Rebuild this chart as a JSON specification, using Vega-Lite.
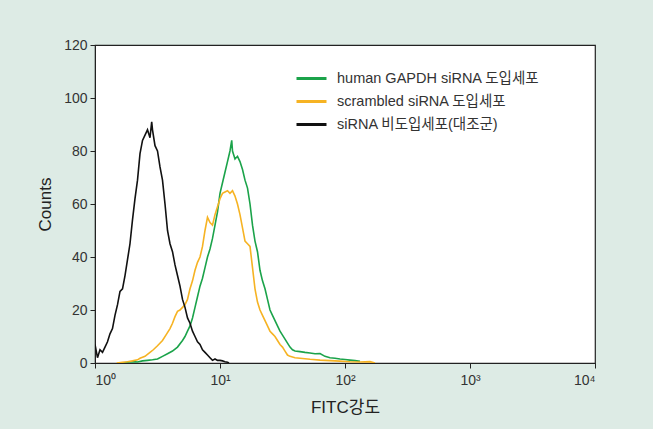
{
  "$schema": "https://vega.github.io/schema/vega-lite/v6.json",
  "autosize": "none",
  "padding": {"left": 95, "top": 45, "right": 58, "bottom": 66},
  "width": 500,
  "height": 318,
  "background": "#ddebe5",
  "config": {
    "font": "Liberation Sans, Noto Sans CJK KR",
    "view": {"stroke": "#222", "strokeWidth": 1.2, "fill": "white"}
  },
  "datasets": {
    "black": [[1.000,7],[1.047,2],[1.096,5],[1.148,4],[1.202,6],[1.259,8],[1.318,11],[1.380,13],[1.445,18],[1.514,22],[1.585,27],[1.660,28],[1.738,33],[1.820,39],[1.905,45],[1.995,54],[2.089,62],[2.188,69],[2.291,79],[2.399,84],[2.512,86],[2.630,88],[2.754,85],[2.842,91],[2.884,88],[3.020,82],[3.162,80],[3.311,74],[3.467,69],[3.631,60],[3.802,50],[3.981,45],[4.169,42],[4.365,37],[4.571,33],[4.786,29],[5.012,24],[5.248,21],[5.495,17],[5.754,15],[6.026,12],[6.310,10],[6.607,8],[6.918,7],[7.244,5],[7.586,4],[7.943,3],[8.318,2],[8.710,1],[9.120,1.5],[9.550,1],[10.00,1],[10.47,0.8],[10.96,0.5],[11.48,0.3],[11.80,0]]
  },
  "data": {
    "values": [
      {"s": "human GAPDH siRNA 도입세포", "x": 1.675, "y": 0},
      {"s": "human GAPDH siRNA 도입세포", "x": 1.820, "y": 0.3},
      {"s": "human GAPDH siRNA 도입세포", "x": 1.995, "y": 0.5},
      {"s": "human GAPDH siRNA 도입세포", "x": 2.188, "y": 0.4},
      {"s": "human GAPDH siRNA 도입세포", "x": 2.399, "y": 0.8},
      {"s": "human GAPDH siRNA 도입세포", "x": 2.630, "y": 1},
      {"s": "human GAPDH siRNA 도입세포", "x": 2.884, "y": 1.2},
      {"s": "human GAPDH siRNA 도입세포", "x": 3.162, "y": 1.5},
      {"s": "human GAPDH siRNA 도입세포", "x": 3.467, "y": 2.5},
      {"s": "human GAPDH siRNA 도입세포", "x": 3.802, "y": 3.5},
      {"s": "human GAPDH siRNA 도입세포", "x": 4.169, "y": 4.5},
      {"s": "human GAPDH siRNA 도입세포", "x": 4.571, "y": 6},
      {"s": "human GAPDH siRNA 도입세포", "x": 5.012, "y": 8.5},
      {"s": "human GAPDH siRNA 도입세포", "x": 5.248, "y": 10},
      {"s": "human GAPDH siRNA 도입세포", "x": 5.495, "y": 12},
      {"s": "human GAPDH siRNA 도입세포", "x": 5.754, "y": 14},
      {"s": "human GAPDH siRNA 도입세포", "x": 6.026, "y": 17},
      {"s": "human GAPDH siRNA 도입세포", "x": 6.310, "y": 21},
      {"s": "human GAPDH siRNA 도입세포", "x": 6.607, "y": 25},
      {"s": "human GAPDH siRNA 도입세포", "x": 6.918, "y": 29},
      {"s": "human GAPDH siRNA 도입세포", "x": 7.244, "y": 32},
      {"s": "human GAPDH siRNA 도입세포", "x": 7.586, "y": 36},
      {"s": "human GAPDH siRNA 도입세포", "x": 7.943, "y": 40},
      {"s": "human GAPDH siRNA 도입세포", "x": 8.318, "y": 43},
      {"s": "human GAPDH siRNA 도입세포", "x": 8.710, "y": 47},
      {"s": "human GAPDH siRNA 도입세포", "x": 9.120, "y": 52},
      {"s": "human GAPDH siRNA 도입세포", "x": 9.550, "y": 57},
      {"s": "human GAPDH siRNA 도입세포", "x": 10.00, "y": 64},
      {"s": "human GAPDH siRNA 도입세포", "x": 10.47, "y": 68},
      {"s": "human GAPDH siRNA 도입세포", "x": 10.96, "y": 72},
      {"s": "human GAPDH siRNA 도입세포", "x": 11.48, "y": 76},
      {"s": "human GAPDH siRNA 도입세포", "x": 12.02, "y": 80},
      {"s": "human GAPDH siRNA 도입세포", "x": 12.41, "y": 84},
      {"s": "human GAPDH siRNA 도입세포", "x": 12.59, "y": 80},
      {"s": "human GAPDH siRNA 도입세포", "x": 13.18, "y": 77},
      {"s": "human GAPDH siRNA 도입세포", "x": 13.80, "y": 78},
      {"s": "human GAPDH siRNA 도입세포", "x": 14.45, "y": 76},
      {"s": "human GAPDH siRNA 도입세포", "x": 15.14, "y": 73},
      {"s": "human GAPDH siRNA 도입세포", "x": 15.85, "y": 69},
      {"s": "human GAPDH siRNA 도입세포", "x": 16.60, "y": 66},
      {"s": "human GAPDH siRNA 도입세포", "x": 17.38, "y": 60},
      {"s": "human GAPDH siRNA 도입세포", "x": 18.20, "y": 52},
      {"s": "human GAPDH siRNA 도입세포", "x": 19.05, "y": 46},
      {"s": "human GAPDH siRNA 도입세포", "x": 19.95, "y": 42},
      {"s": "human GAPDH siRNA 도입세포", "x": 20.89, "y": 35},
      {"s": "human GAPDH siRNA 도입세포", "x": 21.88, "y": 31},
      {"s": "human GAPDH siRNA 도입세포", "x": 22.91, "y": 28},
      {"s": "human GAPDH siRNA 도입세포", "x": 23.99, "y": 24},
      {"s": "human GAPDH siRNA 도입세포", "x": 25.12, "y": 20},
      {"s": "human GAPDH siRNA 도입세포", "x": 26.30, "y": 18},
      {"s": "human GAPDH siRNA 도입세포", "x": 27.54, "y": 16},
      {"s": "human GAPDH siRNA 도입세포", "x": 28.84, "y": 14},
      {"s": "human GAPDH siRNA 도입세포", "x": 30.20, "y": 12},
      {"s": "human GAPDH siRNA 도입세포", "x": 31.62, "y": 10.5},
      {"s": "human GAPDH siRNA 도입세포", "x": 33.11, "y": 9},
      {"s": "human GAPDH siRNA 도입세포", "x": 34.67, "y": 7.5},
      {"s": "human GAPDH siRNA 도입세포", "x": 36.31, "y": 6},
      {"s": "human GAPDH siRNA 도입세포", "x": 38.02, "y": 5},
      {"s": "human GAPDH siRNA 도입세포", "x": 39.81, "y": 4.5},
      {"s": "human GAPDH siRNA 도입세포", "x": 43.65, "y": 4.3},
      {"s": "human GAPDH siRNA 도입세포", "x": 47.86, "y": 4},
      {"s": "human GAPDH siRNA 도입세포", "x": 52.48, "y": 3.8},
      {"s": "human GAPDH siRNA 도입세포", "x": 57.54, "y": 3.5},
      {"s": "human GAPDH siRNA 도입세포", "x": 63.10, "y": 3.6},
      {"s": "human GAPDH siRNA 도입세포", "x": 69.18, "y": 2.5},
      {"s": "human GAPDH siRNA 도입세포", "x": 75.86, "y": 2},
      {"s": "human GAPDH siRNA 도입세포", "x": 83.18, "y": 1.8},
      {"s": "human GAPDH siRNA 도입세포", "x": 91.20, "y": 1.5},
      {"s": "human GAPDH siRNA 도입세포", "x": 100.0, "y": 1.3},
      {"s": "human GAPDH siRNA 도입세포", "x": 109.6, "y": 1.1},
      {"s": "human GAPDH siRNA 도입세포", "x": 120.2, "y": 0.9},
      {"s": "human GAPDH siRNA 도입세포", "x": 131.8, "y": 0.6},
      {"s": "scrambled siRNA 도입세포", "x": 1.491, "y": 0},
      {"s": "scrambled siRNA 도입세포", "x": 1.660, "y": 0.3},
      {"s": "scrambled siRNA 도입세포", "x": 1.820, "y": 0.5},
      {"s": "scrambled siRNA 도입세포", "x": 1.995, "y": 0.8},
      {"s": "scrambled siRNA 도입세포", "x": 2.188, "y": 1.2},
      {"s": "scrambled siRNA 도입세포", "x": 2.291, "y": 1.8},
      {"s": "scrambled siRNA 도입세포", "x": 2.512, "y": 2.5},
      {"s": "scrambled siRNA 도입세포", "x": 2.754, "y": 4},
      {"s": "scrambled siRNA 도입세포", "x": 2.927, "y": 5},
      {"s": "scrambled siRNA 도입세포", "x": 3.162, "y": 6.5},
      {"s": "scrambled siRNA 도입세포", "x": 3.467, "y": 8.5},
      {"s": "scrambled siRNA 도입세포", "x": 3.746, "y": 11},
      {"s": "scrambled siRNA 도입세포", "x": 3.981, "y": 13},
      {"s": "scrambled siRNA 도입세포", "x": 4.169, "y": 15},
      {"s": "scrambled siRNA 도입세포", "x": 4.365, "y": 17.5},
      {"s": "scrambled siRNA 도입세포", "x": 4.571, "y": 19.5},
      {"s": "scrambled siRNA 도입세포", "x": 4.786, "y": 20},
      {"s": "scrambled siRNA 도입세포", "x": 5.012, "y": 21},
      {"s": "scrambled siRNA 도입세포", "x": 5.248, "y": 22},
      {"s": "scrambled siRNA 도입세포", "x": 5.495, "y": 24},
      {"s": "scrambled siRNA 도입세포", "x": 5.754, "y": 28},
      {"s": "scrambled siRNA 도입세포", "x": 6.026, "y": 31},
      {"s": "scrambled siRNA 도입세포", "x": 6.310, "y": 35},
      {"s": "scrambled siRNA 도입세포", "x": 6.607, "y": 38},
      {"s": "scrambled siRNA 도입세포", "x": 6.918, "y": 40},
      {"s": "scrambled siRNA 도입세포", "x": 7.244, "y": 44},
      {"s": "scrambled siRNA 도입세포", "x": 7.586, "y": 50},
      {"s": "scrambled siRNA 도입세포", "x": 7.943, "y": 55},
      {"s": "scrambled siRNA 도입세포", "x": 8.318, "y": 53},
      {"s": "scrambled siRNA 도입세포", "x": 8.710, "y": 52},
      {"s": "scrambled siRNA 도입세포", "x": 9.120, "y": 56},
      {"s": "scrambled siRNA 도입세포", "x": 9.550, "y": 59},
      {"s": "scrambled siRNA 도입세포", "x": 10.00, "y": 62},
      {"s": "scrambled siRNA 도입세포", "x": 10.47, "y": 64},
      {"s": "scrambled siRNA 도입세포", "x": 10.96, "y": 64.5},
      {"s": "scrambled siRNA 도입세포", "x": 11.48, "y": 65},
      {"s": "scrambled siRNA 도입세포", "x": 12.02, "y": 64},
      {"s": "scrambled siRNA 도입세포", "x": 12.59, "y": 65},
      {"s": "scrambled siRNA 도입세포", "x": 13.18, "y": 63},
      {"s": "scrambled siRNA 도입세포", "x": 13.80, "y": 60},
      {"s": "scrambled siRNA 도입세포", "x": 14.45, "y": 56},
      {"s": "scrambled siRNA 도입세포", "x": 15.14, "y": 51},
      {"s": "scrambled siRNA 도입세포", "x": 15.85, "y": 46},
      {"s": "scrambled siRNA 도입세포", "x": 16.60, "y": 45},
      {"s": "scrambled siRNA 도입세포", "x": 17.38, "y": 44},
      {"s": "scrambled siRNA 도입세포", "x": 18.20, "y": 36},
      {"s": "scrambled siRNA 도입세포", "x": 19.05, "y": 28},
      {"s": "scrambled siRNA 도입세포", "x": 19.95, "y": 23},
      {"s": "scrambled siRNA 도입세포", "x": 20.89, "y": 20},
      {"s": "scrambled siRNA 도입세포", "x": 21.88, "y": 18},
      {"s": "scrambled siRNA 도입세포", "x": 22.91, "y": 16},
      {"s": "scrambled siRNA 도입세포", "x": 23.99, "y": 14},
      {"s": "scrambled siRNA 도입세포", "x": 25.12, "y": 12},
      {"s": "scrambled siRNA 도입세포", "x": 26.30, "y": 11},
      {"s": "scrambled siRNA 도입세포", "x": 27.54, "y": 10},
      {"s": "scrambled siRNA 도입세포", "x": 28.84, "y": 8.5},
      {"s": "scrambled siRNA 도입세포", "x": 30.20, "y": 7},
      {"s": "scrambled siRNA 도입세포", "x": 31.62, "y": 6},
      {"s": "scrambled siRNA 도입세포", "x": 33.11, "y": 4.5},
      {"s": "scrambled siRNA 도입세포", "x": 34.67, "y": 3},
      {"s": "scrambled siRNA 도입세포", "x": 36.31, "y": 2.5},
      {"s": "scrambled siRNA 도입세포", "x": 39.81, "y": 2},
      {"s": "scrambled siRNA 도입세포", "x": 43.65, "y": 1.8},
      {"s": "scrambled siRNA 도입세포", "x": 52.48, "y": 1.4},
      {"s": "scrambled siRNA 도입세포", "x": 63.10, "y": 1.1},
      {"s": "scrambled siRNA 도입세포", "x": 75.86, "y": 0.9},
      {"s": "scrambled siRNA 도입세포", "x": 91.20, "y": 0.7},
      {"s": "scrambled siRNA 도입세포", "x": 109.6, "y": 0.5},
      {"s": "scrambled siRNA 도입세포", "x": 131.8, "y": 0.4},
      {"s": "scrambled siRNA 도입세포", "x": 158.5, "y": 0.5},
      {"s": "scrambled siRNA 도입세포", "x": 173.8, "y": 0}
    ]
  },
  "layer": [
    {
      "mark": {"type": "line", "strokeWidth": 1.6, "clip": true},
      "encoding": {
        "x": {
          "field": "x", "type": "quantitative",
          "scale": {"type": "log", "domain": [1, 10000]},
          "axis": {
            "values": [1, 10, 100, 1000, 10000],
            "labelExpr": "datum.value == 1 ? '10⁰' : datum.value == 10 ? '10¹' : datum.value == 100 ? '10²' : datum.value == 1000 ? '10³' : '10⁴'",
            "grid": false, "tickSize": 5, "tickColor": "#222", "domainColor": "#222",
            "labelFontSize": 14, "labelColor": "#333", "labelPadding": 5,
            "title": "FITC강도", "titleFontSize": 17, "titleFontWeight": "normal", "titleColor": "#222", "titlePadding": 12
          }
        },
        "y": {
          "field": "y", "type": "quantitative",
          "scale": {"domain": [0, 120], "nice": false},
          "axis": {
            "values": [0, 20, 40, 60, 80, 100, 120],
            "grid": false, "tickSize": 5, "tickColor": "#222", "domainColor": "#222",
            "labelFontSize": 14, "labelColor": "#333", "labelPadding": 3,
            "title": "Counts", "titleFontSize": 17, "titleFontWeight": "normal", "titleColor": "#222", "titlePadding": 9
          }
        },
        "color": {
          "field": "s", "type": "nominal",
          "scale": {
            "domain": ["human GAPDH siRNA 도입세포", "scrambled siRNA 도입세포", "siRNA 비도입세포(대조군)"],
            "range": ["#1ba34a", "#f6b323", "#111111"]
          },
          "legend": {
            "orient": "none", "legendX": 200, "legendY": 17,
            "title": null, "symbolType": "stroke", "symbolSize": 900, "symbolStrokeWidth": 3,
            "labelFontSize": 14.5, "labelColor": "#333", "labelOffset": 9, "labelLimit": 0, "rowPadding": -7
          }
        }
      }
    },
    {
      "data": {"name": "black"},
      "transform": [
        {"calculate": "datum[0]", "as": "x"},
        {"calculate": "datum[1]", "as": "y"},
        {"calculate": "'siRNA 비도입세포(대조군)'", "as": "s"}
      ],
      "mark": {"type": "line", "strokeWidth": 1.6, "clip": true},
      "encoding": {
        "x": {"field": "x", "type": "quantitative"},
        "y": {"field": "y", "type": "quantitative"},
        "color": {"field": "s", "type": "nominal"}
      }
    }
  ]
}
